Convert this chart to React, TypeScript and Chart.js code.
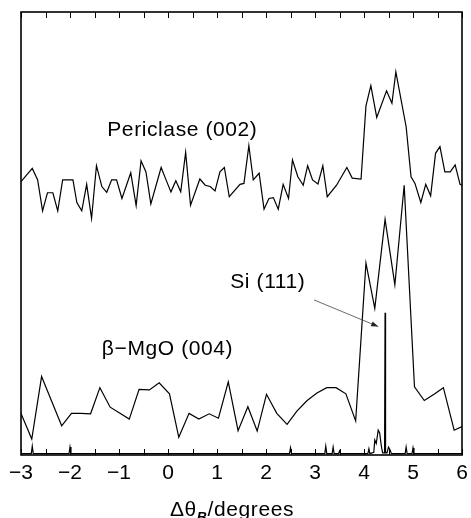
import React, { useEffect, useRef } from 'react';
import { Chart, registerables } from 'chart.js';

Chart.register(...registerables);

// Periclase (002) rocking curve (arbitrary intensity units)
const periclaseX = [
  -3.0, -2.77, -2.66, -2.56, -2.46, -2.35, -2.25, -2.15, -2.05, -1.94, -1.86, -1.76, -1.66, -1.56,
  -1.46, -1.35, -1.25, -1.15, -1.05, -0.94, -0.76, -0.65, -0.55, -0.45, -0.35, -0.14, -0.04, 0.06,
  0.16, 0.26, 0.36, 0.46, 0.65, 0.76, 0.86, 0.96, 1.06, 1.15, 1.25, 1.47, 1.55, 1.65, 1.74, 1.86,
  1.96, 2.06, 2.15, 2.25, 2.35, 2.46, 2.54, 2.65, 2.76, 2.85, 2.95, 3.06, 3.16, 3.25, 3.44, 3.54,
  3.65, 3.76, 3.94, 4.04, 4.14, 4.26, 4.46, 4.57, 4.65, 4.86, 4.96, 5.04, 5.16, 5.26, 5.36, 5.46,
  5.55, 5.65, 5.76, 5.86, 5.96, 6.0,
];
const periclaseY = [
  61.7, 64.7, 62.1, 55.1, 59.2, 59.2, 55.1, 62.1, 62.1, 62.1, 57.0, 55.1, 61.1, 53.4,
  65.3, 60.6, 59.3, 62.1, 62.1, 57.9, 63.7, 56.3, 66.4, 63.9, 56.7, 64.9, 62.1, 59.4,
  61.9, 59.4, 68.3, 56.4, 62.3, 60.9, 60.6, 59.6, 63.9, 64.9, 58.3, 61.1, 61.3, 69.8, 62.1, 63.6,
  55.5, 57.9, 58.1, 55.5, 61.1, 57.9, 66.6, 62.8, 60.9, 65.3, 62.1, 61.2, 65.3, 58.3, 60.9, 62.8,
  64.9, 62.5, 62.3, 78.8, 83.4, 76.2, 82.2, 79.4, 86.5, 74.1, 62.8, 61.3, 57.0, 61.1, 58.5, 68.1,
  69.6, 63.9, 63.9, 65.5, 61.1, 60.9,
];

// beta-MgO (004) rocking curve
const mgoX = [
  -3.0, -2.78, -2.58, -2.37, -2.17, -1.97, -1.78, -1.58, -1.39, -1.18, -0.98, -0.79, -0.59, -0.38,
  -0.18, 0.03, 0.22, 0.43, 0.63, 0.84, 1.03, 1.23, 1.43, 1.63, 1.82, 2.01, 2.22, 2.43, 2.63, 2.84,
  3.04, 3.24, 3.43, 3.63, 3.83, 4.04, 4.22, 4.43, 4.63, 4.82, 5.03, 5.23, 5.43, 5.62, 5.84, 6.0,
];
const mgoY = [
  9.4, 3.6, 17.7, 12.0, 6.6, 9.4, 9.4, 9.3, 15.2, 10.8, 9.4, 8.1, 14.8, 14.7,
  16.3, 13.8, 4.0, 9.4, 8.1, 9.3, 8.3, 16.5, 5.5, 10.9, 5.4, 13.7, 9.4, 6.9, 9.9, 12.3,
  14.0, 15.2, 15.2, 13.8, 7.7, 43.3, 33.1, 53.2, 38.4, 60.9, 15.4, 12.3, 13.7, 15.2, 5.6, 6.4,
];

// Si (111) substrate reflection
const siX = [
  -3.0, -2.79, -2.77, -2.75, -2.02, -2.0, -1.98, 2.48, 2.5, 2.52, 3.2, 3.22, 3.24, 3.35, 3.37, 3.39,
  3.48, 3.5, 3.52, 4.08, 4.1, 4.12, 4.2, 4.22, 4.25, 4.29, 4.32, 4.35, 4.38, 4.42, 4.43, 4.44,
  4.47, 4.5, 4.53, 4.56, 4.84, 4.86, 4.88, 4.98, 5.0, 5.02, 6.0,
];
const siY = [
  0.3, 0.3, 2.0, 0.3, 0.3, 1.8, 0.3, 0.3, 1.6, 0.3, 0.3, 2.0, 0.3, 0.3, 1.8, 0.3,
  0.3, 0.9, 0.3, 0.3, 1.4, 0.3, 0.6, 3.4, 2.6, 5.6, 5.0, 2.3, 0.5, 0.5, 32.1, 0.5,
  0.5, 1.8, 1.2, 0.3, 0.3, 1.8, 0.3, 0.3, 1.6, 0.3, 0.3,
];

const xTickValues = [-3, -2, -1, 0, 1, 2, 3, 4, 5, 6];
const xMinorTickValues = [-3, -2.5, -2, -1.5, -1, -0.5, 0, 0.5, 1, 1.5, 2, 2.5, 3, 3.5, 4, 4.5, 5, 5.5, 6];
const seriesLabels = ['Periclase (002)', 'β−MgO (004)', 'Si (111)'];
const axisTitleParts = ['Δθ', 'B', '/degrees'];

const FONT = "'Liberation Sans', Arial, Helvetica, sans-serif";

const zip = (xs: number[], ys: number[]) => xs.map((x, i) => ({ x, y: ys[i] }));

const framePlugin = {
  id: 'frame',
  afterDraw(chart: any) {
    const { ctx, chartArea: a, scales } = chart;
    const xs = scales.x;
    const ys = scales.y;
    ctx.save();
    // inward ticks top & bottom
    ctx.strokeStyle = '#000';
    ctx.lineWidth = 1;
    ctx.beginPath();
    for (const v of xMinorTickValues) {
      const px = Math.round(xs.getPixelForValue(v)) + 0.5;
      ctx.moveTo(px, a.bottom);
      ctx.lineTo(px, a.bottom - 6);
      ctx.moveTo(px, a.top);
      ctx.lineTo(px, a.top + 6);
    }
    ctx.stroke();
    // frame
    ctx.lineWidth = 1.6;
    ctx.strokeRect(a.left, a.top, a.right - a.left, a.bottom - a.top);

    // annotations
    ctx.fillStyle = '#000';
    ctx.font = `21px ${FONT}`;
    (ctx as any).letterSpacing = '0.6px';
    ctx.textAlign = 'left';
    ctx.textBaseline = 'alphabetic';
    ctx.fillText(seriesLabels[0], xs.getPixelForValue(-1.24), ys.getPixelForValue(72.0));
    ctx.fillText(seriesLabels[1], xs.getPixelForValue(-1.35), ys.getPixelForValue(22.6));
    ctx.fillText(seriesLabels[2], xs.getPixelForValue(1.27), ys.getPixelForValue(37.8));

    // arrow to Si peak
    const x0 = xs.getPixelForValue(2.98), y0 = ys.getPixelForValue(35.0);
    const x1 = xs.getPixelForValue(4.29), y1 = ys.getPixelForValue(29.0);
    ctx.strokeStyle = '#444';
    ctx.lineWidth = 0.8;
    ctx.beginPath();
    ctx.moveTo(x0, y0);
    ctx.lineTo(x1, y1);
    ctx.stroke();
    const ang = Math.atan2(y1 - y0, x1 - x0);
    const hl = 7, hw = 2.6;
    ctx.fillStyle = '#222';
    ctx.beginPath();
    ctx.moveTo(x1, y1);
    ctx.lineTo(x1 - hl * Math.cos(ang) + hw * Math.sin(ang), y1 - hl * Math.sin(ang) - hw * Math.cos(ang));
    ctx.lineTo(x1 - hl * Math.cos(ang) - hw * Math.sin(ang), y1 - hl * Math.sin(ang) + hw * Math.cos(ang));
    ctx.closePath();
    ctx.fill();

    // axis title with subscript
    ctx.fillStyle = '#000';
    const mainFont = `21px ${FONT}`;
    const subFont = `italic bold 14px ${FONT}`;
    ctx.font = mainFont;
    const w0 = ctx.measureText(axisTitleParts[0]).width;
    const w2 = ctx.measureText(axisTitleParts[2]).width;
    ctx.font = subFont;
    const w1 = ctx.measureText(axisTitleParts[1]).width;
    const total = w0 + w1 + w2;
    let tx = 232 - total / 2;
    const base = 516;
    ctx.font = mainFont;
    ctx.fillText(axisTitleParts[0], tx, base);
    tx += w0;
    ctx.font = subFont;
    ctx.fillText(axisTitleParts[1], tx, base + 6);
    tx += w1;
    ctx.font = mainFont;
    ctx.fillText(axisTitleParts[2], tx, base);
    ctx.restore();
  },
};

export default function App() {
  const ref = useRef<HTMLCanvasElement | null>(null);
  useEffect(() => {
    document.body.style.margin = '0';
    const canvas = ref.current;
    if (!canvas) return;
    const lineStyle = {
      borderColor: '#000',
      borderWidth: 1.2,
      pointRadius: 0,
      tension: 0,
      fill: false,
    };
    const chart = new Chart(canvas, {
      type: 'line',
      data: {
        datasets: [
          { label: seriesLabels[0], data: zip(periclaseX, periclaseY), ...lineStyle },
          { label: seriesLabels[1], data: zip(mgoX, mgoY), ...lineStyle },
          { label: seriesLabels[2], data: zip(siX, siY), ...lineStyle },
        ],
      },
      options: {
        animation: false,
        responsive: false,
        maintainAspectRatio: false,
        devicePixelRatio: 1,
        layout: { padding: { left: 21, right: 9, top: 12, bottom: 0 } },
        plugins: { legend: { display: false }, tooltip: { enabled: false } },
        scales: {
          x: {
            type: 'linear',
            min: -3,
            max: 6,
            position: 'bottom',
            afterBuildTicks: (s: any) => {
              s.ticks = xTickValues.map((v) => ({ value: v }));
            },
            afterFit: (s: any) => {
              s.height = 63;
              s.paddingLeft = 0;
              s.paddingRight = 0;
            },
            ticks: {
              autoSkip: false,
              maxRotation: 0,
              padding: 6,
              color: '#000',
              font: { size: 21, family: FONT },
              callback: (v: any) => String(v).replace('-', '\u2212'),
            },
            grid: { display: false, drawTicks: false },
            border: { display: false },
          },
          y: { display: false, min: 0, max: 100 },
        },
      },
      plugins: [framePlugin],
    } as any);
    return () => chart.destroy();
  }, []);
  return (
    <div style={{ width: 471, height: 518, background: '#fff' }}>
      <canvas ref={ref} width={471} height={518} />
    </div>
  );
}
